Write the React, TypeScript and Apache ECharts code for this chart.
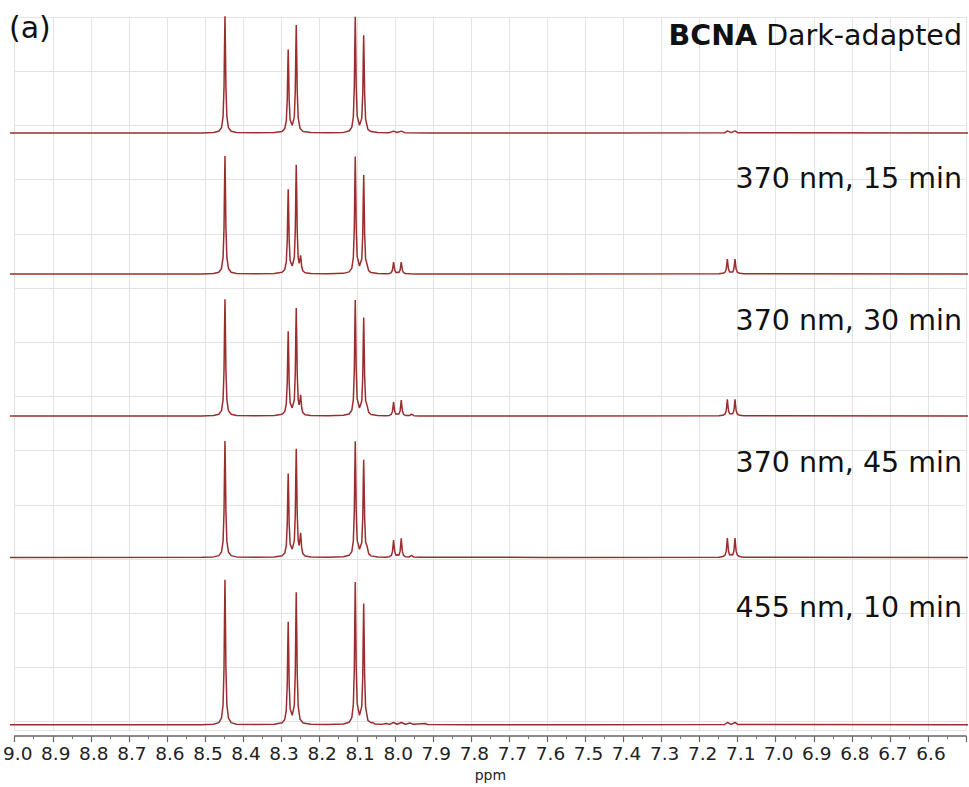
import React, { useEffect, useRef } from "react";
import * as echarts from "echarts";

// Spectra: [ppm, intensity] (intensity ~ 100 for the 8.44 ppm singlet)
const darkAdapted: number[][] = [
  [9.0, 0], [8.5, 0.1], [8.469, 0.44], [8.455, 1.5], [8.448, 4.6], [8.444, 13.7], [8.4415, 38.6], [8.4402, 72.8], [8.439, 99], [8.4378, 72.8], [8.4365, 38.6], [8.434, 13.7], [8.43, 4.6], [8.423, 1.5], [8.409, 0.44], [8.36, 0.2],
  [8.31, 0.33], [8.29, 1.35], [8.283, 3.7], [8.279, 10.2], [8.2765, 28], [8.2752, 52.2], [8.274, 70.8], [8.2728, 52.4], [8.2715, 28.4], [8.269, 11.1], [8.2635, 6.5], [8.258, 13.7], [8.2555, 36.3], [8.2542, 67.6], [8.253, 91.6], [8.2518, 67.4], [8.2505, 36], [8.248, 13], [8.243, 3.8], [8.235, 1.3], [8.215, 0.35], [8.17, 0.2],
  [8.13, 0.52], [8.115, 1.7], [8.108, 4.9], [8.104, 14], [8.1015, 38.7], [8.1002, 72.6], [8.099, 98.6], [8.0978, 72.7], [8.0965, 39], [8.094, 14.6], [8.088, 6.5], [8.082, 12.6], [8.0795, 33], [8.0782, 61.2], [8.077, 82.8], [8.0758, 61], [8.0745, 32.7], [8.072, 11.9], [8.066, 3], [8.058, 1.2], [8.04, 0.35],
  [8.01, 0.3], [7.999, 1.6], [7.99, 0.4], [7.979, 1.6], [7.97, 0.3], [7.9, 0.1], [7.5, 0], [7.135, 0.2], [7.128, 1.8], [7.118, 0.3], [7.108, 1.8], [7.1, 0.2], [6.5, 0],
];

const uv15min: number[][] = [
  [9.0, 0], [8.5, 0.1], [8.469, 0.44], [8.455, 1.5], [8.448, 4.7], [8.444, 13.8], [8.4415, 39], [8.4402, 73.5], [8.439, 100], [8.4378, 73.5], [8.4365, 39], [8.434, 13.8], [8.43, 4.7], [8.423, 1.5], [8.409, 0.44], [8.36, 0.2],
  [8.31, 0.35], [8.29, 1.4], [8.283, 3.8], [8.279, 10.3], [8.2765, 28.4], [8.2752, 52.9], [8.274, 71.8], [8.2728, 53.2], [8.2715, 28.9], [8.269, 11.5], [8.2635, 6.8], [8.258, 14.2], [8.2555, 36.8], [8.2542, 68.4], [8.253, 92.6], [8.2518, 69.5], [8.2505, 36.8], [8.248, 14.2], [8.2455, 9.1], [8.2428, 13.3], [8.2416, 15.9], [8.2404, 11.9], [8.239, 6.6], [8.236, 2.8], [8.23, 1.1], [8.215, 0.4], [8.17, 0.2],
  [8.13, 0.55], [8.115, 1.8], [8.108, 5], [8.104, 14.2], [8.1015, 39.2], [8.1002, 73.4], [8.099, 99.6], [8.0978, 73.4], [8.0965, 39.5], [8.094, 14.8], [8.088, 6.8], [8.082, 12.9], [8.0795, 33.5], [8.0782, 62], [8.077, 84], [8.0758, 62], [8.0745, 33.4], [8.072, 12.8], [8.068, 7.8], [8.064, 2.8], [8.058, 1.2], [8.04, 0.4],
  [8.02, 0.15], [8.01, 0.45], [8.005, 1.2], [8.002, 3.3], [8.0005, 6.6], [7.999, 10.1], [7.9975, 6.6], [7.996, 3.5], [7.993, 1.3], [7.989, 1.5], [7.985, 1.3], [7.982, 3.3], [7.9805, 6.6], [7.979, 10.1], [7.9775, 6.5], [7.976, 3.2], [7.973, 1.2], [7.968, 0.45], [7.955, 0.2], [7.94, 0.1], [7.6, 0],
  [7.15, 0.15], [7.14, 0.55], [7.134, 1.5], [7.131, 4.1], [7.1295, 8.2], [7.128, 12.6], [7.1265, 8.2], [7.125, 4.2], [7.122, 1.6], [7.118, 1.8], [7.114, 1.6], [7.111, 4.2], [7.1095, 8.2], [7.108, 12.6], [7.1065, 8.2], [7.105, 4.1], [7.102, 1.5], [7.096, 0.55], [7.085, 0.15], [6.5, 0],
];

const uv30min: number[][] = [
  [9.0, 0], [8.5, 0.1], [8.469, 0.44], [8.455, 1.5], [8.448, 4.6], [8.444, 13.7], [8.4415, 38.6], [8.4402, 72.8], [8.439, 99], [8.4378, 72.8], [8.4365, 38.6], [8.434, 13.7], [8.43, 4.6], [8.423, 1.5], [8.409, 0.44], [8.36, 0.2],
  [8.31, 0.35], [8.29, 1.4], [8.283, 3.8], [8.279, 10.3], [8.2765, 28.3], [8.2752, 52.8], [8.274, 71.8], [8.2728, 53], [8.2715, 28.7], [8.269, 11.3], [8.2635, 6.9], [8.258, 13.8], [8.2555, 36.4], [8.2542, 67.5], [8.253, 91.5], [8.2518, 67.5], [8.2505, 36.5], [8.248, 14.2], [8.2455, 9.4], [8.2428, 14.5], [8.2416, 17.9], [8.2404, 13.2], [8.239, 7.4], [8.236, 2.9], [8.23, 1.15], [8.215, 0.4], [8.17, 0.2],
  [8.13, 0.55], [8.115, 1.7], [8.108, 4.9], [8.104, 14], [8.1015, 38.6], [8.1002, 72.4], [8.099, 98.3], [8.0978, 72.5], [8.0965, 38.9], [8.094, 14.6], [8.088, 6.8], [8.082, 12.7], [8.0795, 33.3], [8.0782, 61.8], [8.077, 83.6], [8.0758, 61.9], [8.0745, 33.3], [8.072, 13.1], [8.068, 8.8], [8.064, 3.1], [8.058, 1.3], [8.04, 0.4],
  [8.02, 0.2], [8.01, 0.5], [8.005, 1.4], [8.002, 3.9], [8.0005, 7.8], [7.999, 12.1], [7.9975, 7.8], [7.996, 4], [7.993, 1.5], [7.989, 1.8], [7.985, 1.6], [7.982, 4.3], [7.9805, 8.8], [7.979, 13.6], [7.9775, 8.8], [7.976, 4.3], [7.973, 1.4], [7.968, 0.5], [7.958, 0.4], [7.952, 1.5], [7.946, 0.3], [7.93, 0.1], [7.6, 0],
  [7.15, 0.2], [7.14, 0.6], [7.134, 1.7], [7.131, 4.5], [7.1295, 9.1], [7.128, 14.1], [7.1265, 9.1], [7.125, 4.6], [7.122, 1.8], [7.118, 2], [7.114, 1.8], [7.111, 4.6], [7.1095, 9.1], [7.108, 14.1], [7.1065, 9.1], [7.105, 4.5], [7.102, 1.7], [7.096, 0.6], [7.085, 0.2], [6.5, 0],
];

const uv45min: number[][] = [
  [9.0, 0], [8.5, 0.1], [8.469, 0.44], [8.455, 1.5], [8.448, 4.6], [8.444, 13.6], [8.4415, 38.5], [8.4402, 72.6], [8.439, 98.8], [8.4378, 72.6], [8.4365, 38.5], [8.434, 13.6], [8.43, 4.6], [8.423, 1.5], [8.409, 0.44], [8.36, 0.2],
  [8.31, 0.35], [8.29, 1.35], [8.283, 3.7], [8.279, 10.2], [8.2765, 28], [8.2752, 52.4], [8.274, 71.1], [8.2728, 52.6], [8.2715, 28.5], [8.269, 11.3], [8.2635, 7], [8.258, 14.2], [8.2555, 36.7], [8.2542, 68.3], [8.253, 92.1], [8.2518, 68.1], [8.2505, 37.2], [8.248, 14.6], [8.2455, 10.1], [8.2428, 16.8], [8.2416, 20.9], [8.2404, 15.5], [8.239, 8.5], [8.236, 3.3], [8.23, 1.2], [8.215, 0.4], [8.17, 0.2],
  [8.13, 0.55], [8.115, 1.75], [8.108, 4.9], [8.104, 14], [8.1015, 38.7], [8.1002, 72.6], [8.099, 98.6], [8.0978, 72.7], [8.0965, 39], [8.094, 14.6], [8.088, 6.9], [8.082, 12.7], [8.0795, 33.1], [8.0782, 61.3], [8.077, 82.9], [8.0758, 61.3], [8.0745, 33], [8.072, 13.1], [8.068, 9.3], [8.064, 3.2], [8.058, 1.3], [8.04, 0.4],
  [8.02, 0.2], [8.01, 0.6], [8.005, 1.7], [8.002, 4.7], [8.0005, 9.6], [7.999, 14.8], [7.9975, 9.6], [7.996, 4.9], [7.993, 1.8], [7.989, 2.2], [7.985, 1.9], [7.982, 5.1], [7.9805, 10.4], [7.979, 16.1], [7.9775, 10.4], [7.976, 5.1], [7.973, 1.7], [7.968, 0.6], [7.958, 0.4], [7.952, 1.8], [7.946, 0.3], [7.93, 0.1], [7.6, 0],
  [7.15, 0.2], [7.14, 0.7], [7.134, 2], [7.131, 5.3], [7.1295, 10.6], [7.128, 16.5], [7.1265, 10.6], [7.125, 5.4], [7.122, 2.1], [7.118, 2.4], [7.114, 2.1], [7.111, 5.4], [7.1095, 10.6], [7.108, 16.5], [7.1065, 10.6], [7.105, 5.3], [7.102, 2], [7.096, 0.7], [7.085, 0.2], [6.5, 0],
];

const blue10min: number[][] = [
  [9.0, 0], [8.5, 0.1], [8.469, 0.44], [8.455, 1.5], [8.448, 4.7], [8.444, 13.8], [8.4415, 39], [8.4402, 73.5], [8.439, 100], [8.4378, 73.5], [8.4365, 39], [8.434, 13.8], [8.43, 4.7], [8.423, 1.5], [8.409, 0.44], [8.36, 0.2],
  [8.31, 0.33], [8.29, 1.35], [8.283, 3.7], [8.279, 10.2], [8.2765, 28], [8.2752, 52.3], [8.274, 71], [8.2728, 52.4], [8.2715, 28.3], [8.269, 11], [8.2635, 6.5], [8.258, 13.6], [8.2555, 36.2], [8.2542, 67.5], [8.253, 91.4], [8.2518, 67.3], [8.2505, 35.9], [8.248, 12.9], [8.243, 3.8], [8.235, 1.3], [8.215, 0.35], [8.17, 0.2],
  [8.13, 0.52], [8.115, 1.7], [8.108, 4.9], [8.104, 14], [8.1015, 38.6], [8.1002, 72.5], [8.099, 98.5], [8.0978, 72.6], [8.0965, 38.9], [8.094, 14.6], [8.088, 6.5], [8.082, 12.7], [8.0795, 33.3], [8.0782, 61.7], [8.077, 83.6], [8.0758, 61.6], [8.0745, 33], [8.072, 12], [8.066, 3], [8.058, 1.4], [8.053, 1.6], [8.048, 0.5], [8.03, 0.3],
  [8.018, 0.9], [8.01, 0.3], [7.999, 1.6], [7.99, 0.4], [7.979, 1.6], [7.968, 0.4], [7.956, 1.3], [7.948, 0.3], [7.917, 0.9], [7.91, 0.2], [7.8, 0.05], [7.5, 0], [7.135, 0.2], [7.128, 1.6], [7.118, 0.3], [7.108, 1.6], [7.1, 0.2], [6.5, 0],
];

const spectra = [darkAdapted, uv15min, uv30min, uv45min, blue10min];
const compoundName = "BCNA";
const panelLabels = [" Dark-adapted", "370 nm, 15 min", "370 nm, 30 min", "370 nm, 45 min", "455 nm, 10 min"];
const panelTitle = "(a)";
const axisName = "ppm";
const ppmMin = 6.5;
const ppmMax = 9.0;
const ppmStep = 0.1;

// layout (pixels)
const panelBaselines = [133, 274, 416, 557.4, 724.8];
const panelScales = [1.179, 1.179, 1.179, 1.179, 1.45];
const labelY = [35.5, 178, 320, 462, 607];
const Y_LO = -2;
const Y_HI = 104;

const W = 969;
const H = 787;
const FONT = "'DejaVu Sans', 'Liberation Sans', Arial, sans-serif";
const LABEL_SIZE = 28.5;
const LINE = "#9a2d2d";
const GRIDC = "#e3e3e3";

function measure(text: string, font: string, fallback: number): number {
  try {
    const c = document.createElement("canvas").getContext("2d");
    if (!c) return fallback;
    c.font = font;
    const w = c.measureText(text).width;
    return w > 0 ? w : fallback;
  } catch (e) {
    return fallback;
  }
}

export default function App() {
  const ref = useRef<HTMLDivElement>(null);
  useEffect(() => {
    if (!ref.current) return;
    const chart = echarts.init(ref.current, null, { renderer: "svg" });

    const grids: any[] = [{ left: 10, right: 1, top: 17, bottom: 53 }];
    const xAxes: any[] = [
      {
        type: "value",
        gridIndex: 0,
        min: ppmMin,
        max: ppmMax,
        interval: ppmStep,
        inverse: true,
        position: "bottom",
        offset: 6,
        axisLine: { show: true, onZero: false, lineStyle: { color: "#666", width: 1.5 } },
        axisTick: { show: true, length: 6, lineStyle: { color: "#666", width: 1.2 } },
        minorTick: { show: true, splitNumber: 2, length: 3, lineStyle: { color: "#777", width: 1 } },
        axisLabel: {
          formatter: (v: number) => (Math.abs(v - ppmMin) < 1e-6 ? "" : v.toFixed(1)),
          fontFamily: "'DejaVu Sans', sans-serif",
          fontSize: 18.5,
          color: "#222",
          margin: 8,
          padding: [0, 0, 0, 6],
        },
        splitLine: { show: true, lineStyle: { color: GRIDC, width: 1 } },
        name: axisName,
        nameLocation: "middle",
        nameGap: 26,
        nameTextStyle: { fontFamily: "'DejaVu Sans', sans-serif", fontSize: 14, color: "#222" },
      },
    ];
    const yAxes: any[] = [
      {
        type: "value",
        gridIndex: 0,
        min: 0,
        max: 717 / 54.5,
        interval: 1,
        inverse: true,
        axisLine: { show: false },
        axisTick: { show: false },
        axisLabel: { show: false },
        splitLine: { show: true, lineStyle: { color: GRIDC, width: 1 } },
      },
    ];
    const series: any[] = [];

    spectra.forEach((data, i) => {
      const k = panelScales[i];
      const top = panelBaselines[i] - Y_HI * k;
      const height = (Y_HI - Y_LO) * k;
      grids.push({ left: 10, right: 1, top, height });
      xAxes.push({ type: "value", gridIndex: i + 1, min: ppmMin, max: ppmMax, inverse: true, show: false });
      yAxes.push({ type: "value", gridIndex: i + 1, min: Y_LO, max: Y_HI, show: false });
      series.push({
        type: "line",
        xAxisIndex: i + 1,
        yAxisIndex: i + 1,
        data,
        symbol: "none",
        showSymbol: false,
        silent: true,
        lineStyle: { color: LINE, width: 1.5 },
      });
    });

    const restWidth = measure(panelLabels[0], `${LABEL_SIZE}px 'DejaVu Sans'`, 223);

    const graphics: any[] = [
      {
        type: "text",
        left: 9,
        top: 12,
        z: 100,
        style: { text: panelTitle, fontFamily: FONT, fontSize: 30, fill: "#111" },
      },
      {
        type: "text",
        x: 962 - restWidth,
        y: labelY[0],
        z: 100,
        style: {
          text: compoundName,
          fontFamily: FONT,
          fontSize: LABEL_SIZE,
          fontWeight: "bold",
          fill: "#111",
          align: "right",
          verticalAlign: "middle",
        },
      },
    ];
    panelLabels.forEach((t, i) => {
      graphics.push({
        type: "text",
        x: 962,
        y: labelY[i],
        z: 100,
        style: {
          text: t,
          fontFamily: FONT,
          fontSize: LABEL_SIZE,
          fill: "#111",
          align: "right",
          verticalAlign: "middle",
        },
      });
    });

    chart.setOption({
      animation: false,
      backgroundColor: "#fff",
      grid: grids,
      xAxis: xAxes,
      yAxis: yAxes,
      series,
      graphic: graphics,
    });
    return () => chart.dispose();
  }, []);
  return <div ref={ref} style={{ position: "absolute", left: 0, top: 0, width: W, height: H }} />;
}
